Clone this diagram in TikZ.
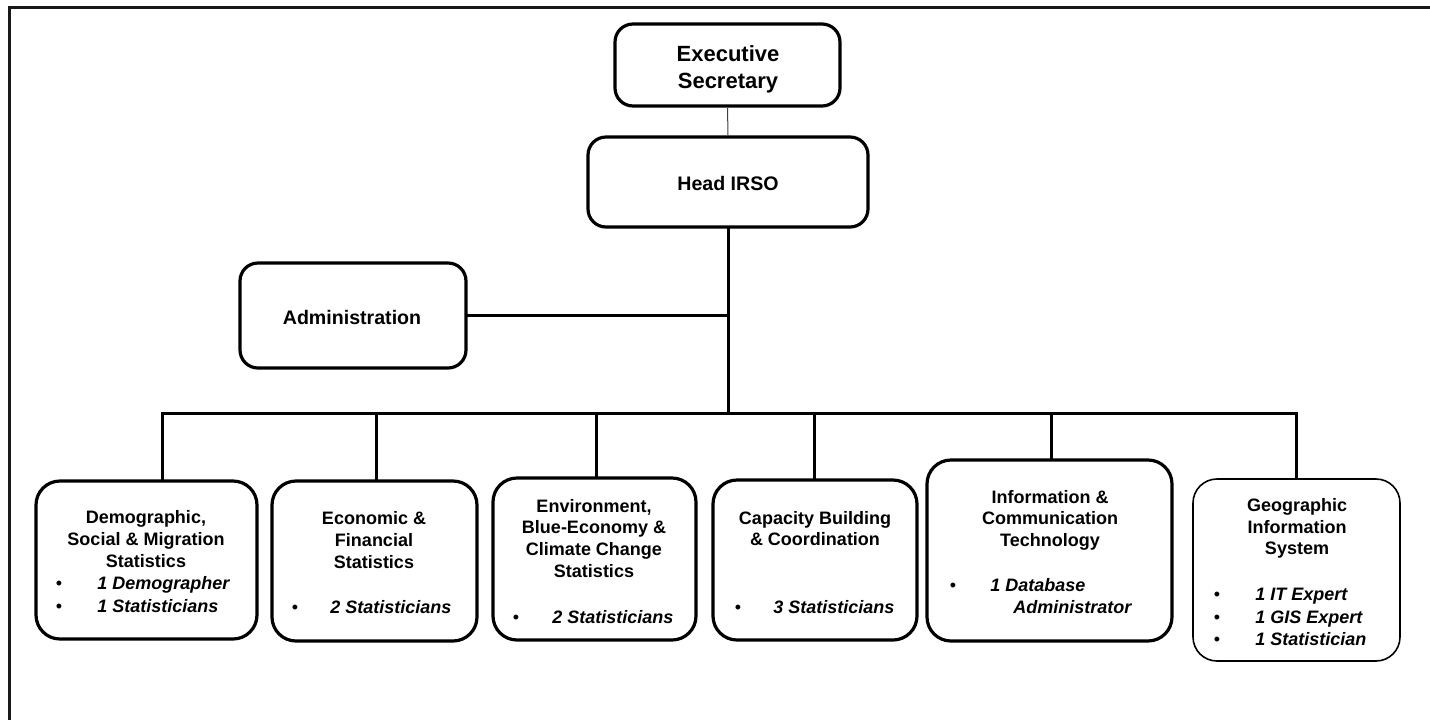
\documentclass[tikz,border=0pt]{standalone}
\usepackage{fontspec}
\setmainfont{Liberation Sans}
\begin{document}
\begin{tikzpicture}[x=0.5pt,y=-0.5pt,
  topbox/.style={draw=black, line width=1.6pt, rounded corners=9pt, inner sep=0pt},
  unitbox/.style={draw=black, line width=1.6pt, rounded corners=12pt, inner sep=0pt},
  thinbox/.style={draw=black, line width=0.8pt, rounded corners=12pt, inner sep=0pt},
  conn/.style={line width=1.5pt, line cap=rect},
  thinconn/.style={line width=0.5pt, draw=black!75},
  bigttl/.style={anchor=base, inner sep=0pt, font=\fontsize{11}{13.5}\selectfont\bfseries},
  midttl/.style={anchor=base, inner sep=0pt, font=\fontsize{9.8}{12}\selectfont\bfseries},
  ttl/.style={anchor=base, inner sep=0pt, font=\fontsize{9}{11}\selectfont\bfseries},
  itm/.style={anchor=base west, inner sep=0pt, font=\fontsize{9}{11}\selectfont\bfseries\itshape},
  bul/.style={anchor=base, inner sep=0pt, font=\fontsize{9}{11}\selectfont},
]
\useasboundingbox (0,0) rectangle (1430,719);
\fill[white] (0,0) rectangle (1430,719);
% outer frame
\draw[line width=1.5pt, black!90] (9,740) -- (9,7) -- (1450,7);

% top boxes
\node[topbox, minimum width=112.5pt, minimum height=41pt] (exec) at (727.5,65) {};
\node[bigttl] (exec1) at (728,61) {Executive};
\node[bigttl] (exec2) at (728,88) {Secretary};

\node[topbox, minimum width=140pt, minimum height=45pt] (head) at (728,182) {};
\node[midttl] (headt) at (728,190) {Head IRSO};

\node[topbox, minimum width=113pt, minimum height=52.5pt] (admin) at (353,315.5) {};
\node[midttl] (admint) at (352,324) {Administration};

% unit boxes
\node[unitbox, minimum width=110.5pt, minimum height=79pt] (demo) at (146.5,560) {};
\node[ttl] (demo1) at (146,523) {Demographic,};
\node[ttl] (demo2) at (146,545) {Social \& Migration};
\node[ttl] (demo3) at (146,567) {Statistics};
\node[bul] (demob1) at (59,589) {•};
\node[itm] (demoi1) at (97,589) {1 Demographer};
\node[bul] (demob2) at (59,612) {•};
\node[itm] (demoi2) at (97,612) {1 Statisticians};

\node[unitbox, minimum width=102.5pt, minimum height=80pt] (econ) at (374.5,561) {};
\node[ttl] (econ1) at (374,524) {Economic \&};
\node[ttl] (econ2) at (374,546) {Financial};
\node[ttl] (econ3) at (374,568) {Statistics};
\node[bul] (econb1) at (295,613) {•};
\node[itm] (econi1) at (330,613) {2 Statisticians};

\node[unitbox, minimum width=101.5pt, minimum height=81pt] (env) at (594.5,559) {};
\node[ttl] (env1) at (594,512) {Environment,};
\node[ttl] (env2) at (594,533) {Blue-Economy \&};
\node[ttl] (env3) at (594,555) {Climate Change};
\node[ttl] (env4) at (594,577) {Statistics};
\node[bul] (envb1) at (516,623) {•};
\node[itm] (envi1) at (552,623) {2 Statisticians};

\node[unitbox, minimum width=102pt, minimum height=80pt] (cap) at (815,560) {};
\node[ttl] (cap1) at (815,524) {Capacity Building};
\node[ttl] (cap2) at (815,545) {\& Coordination};
\node[bul] (capb1) at (738,613) {•};
\node[itm] (capi1) at (773,613) {3 Statisticians};

\node[unitbox, minimum width=122.5pt, minimum height=90.5pt] (ict) at (1049.5,550.5) {};
\node[ttl] (ict1) at (1050,503) {Information \&};
\node[ttl] (ict2) at (1050,524) {Communication};
\node[ttl] (ict3) at (1050,546) {Technology};
\node[bul] (ictb1) at (953,591) {•};
\node[itm] (icti1) at (990,591) {1 Database};
\node[itm] (icti2) at (1013,613) {Administrator};

\node[thinbox, minimum width=103.5pt, minimum height=91pt] (gis) at (1296.5,570) {};
\node[ttl] (gis1) at (1297,511) {Geographic};
\node[ttl] (gis2) at (1297,533) {Information};
\node[ttl] (gis3) at (1297,554) {System};
\node[bul] (gisb1) at (1217,600) {•};
\node[itm] (gisi1) at (1255,600) {1 IT Expert};
\node[bul] (gisb2) at (1217,623) {•};
\node[itm] (gisi2) at (1255,623) {1 GIS Expert};
\node[bul] (gisb3) at (1217,645) {•};
\node[itm] (gisi3) at (1255,645) {1 Statistician};

% connectors
\draw[thinconn] (exec.south) -- (head.north);
\coordinate (hb) at (728,413);
\draw[conn] (head.south) -- (hb);
\draw[conn] (admin.east) -- (admin.east -| hb);

\coordinate (b1) at (162,413);
\coordinate (b2) at (376,413);
\coordinate (b3) at (596,413);
\coordinate (b4) at (814,413);
\coordinate (b5) at (1051,413);
\coordinate (b6) at (1296,413);
\draw[conn, line cap=butt] (b1) -- (b6) -- (b6 |- gis.north);
\draw[conn] (b1) -- (b1 |- demo.north);
\draw[conn] (b2) -- (b2 |- econ.north);
\draw[conn] (b3) -- (b3 |- env.north);
\draw[conn] (b4) -- (b4 |- cap.north);
\draw[conn] (b5) -- (b5 |- ict.north);
\end{tikzpicture}
\end{document}
